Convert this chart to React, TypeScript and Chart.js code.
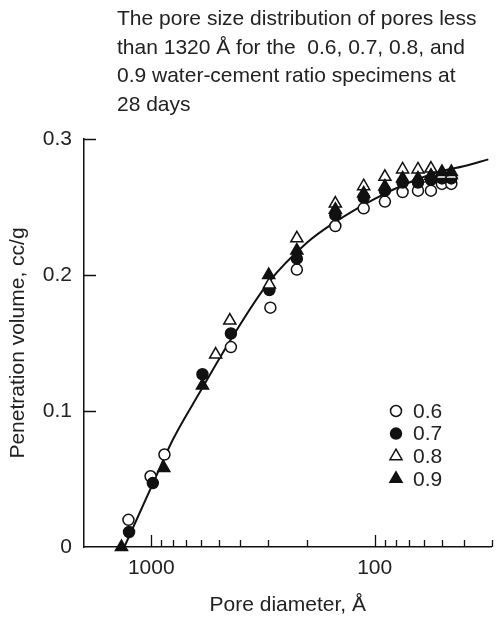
import React, { useEffect, useRef } from 'react';
import { Chart, registerables } from 'chart.js';

Chart.register(...registerables);

const FONT = '"Liberation Sans", Arial, Helvetica, sans-serif';
const INK = '#111111';
const TEXT = '#222222';

const titleLines = [
  'The pore size distribution of pores less',
  'than 1320 Å for the  0.6, 0.7, 0.8, and',
  '0.9 water-cement ratio specimens at',
  '28 days',
];
const xAxisTitle = 'Pore diameter, Å';
const yAxisTitle = 'Penetration volume, cc/g';

// series: water-cement ratio 0.6 (open circles)
const p06X = [1265, 1007, 873, 440, 293, 223, 150, 112, 90, 75, 64, 56, 50, 45.4];
const p06Y = [0.020, 0.052, 0.068, 0.147, 0.176, 0.204, 0.236, 0.249, 0.254, 0.261, 0.262, 0.262, 0.267, 0.267];
// 0.7 (filled circles)
const p07X = [1257, 984, 590, 440, 296, 223, 150, 112, 90, 75, 64, 56, 50, 45.4];
const p07Y = [0.011, 0.047, 0.127, 0.157, 0.189, 0.212, 0.244, 0.257, 0.262, 0.268, 0.268, 0.270, 0.271, 0.271];
// 0.8 (open triangles)
const p08X = [515, 445, 296, 223, 150, 112, 90, 75, 64, 56, 50, 45.4];
const p08Y = [0.1415, 0.1665, 0.193, 0.227, 0.2525, 0.2653, 0.2722, 0.2776, 0.2776, 0.2783, 0.2735, 0.2735];
// 0.9 (filled triangles)
const p09X = [1359, 879, 590, 298, 223, 150, 112, 90, 75, 64, 56, 50, 45.4];
const p09Y = [0, 0.058, 0.1187, 0.200, 0.218, 0.248, 0.260, 0.265, 0.271, 0.271, 0.273, 0.2758, 0.2758];

// fitted curve
const curveX = [1320, 1000, 800, 600, 450, 300, 200, 150, 100, 70, 50, 40, 31];
const curveY = [0, 0.044, 0.079, 0.115, 0.150, 0.194, 0.224, 0.239, 0.256, 0.268, 0.2765, 0.280, 0.285];

const seriesLabels = ['0.6', '0.7', '0.8', '0.9'];

const xMin = 30;
const xMax = 2000;
const yMin = 0;
const yMax = 0.3;
const xLabelTicks = [1000, 100];
const xMinorTicks = [900, 800, 700, 600, 500, 400, 300, 200, 90, 80, 70, 60, 50, 40, 30];
const yTicks = [0, 0.1, 0.2, 0.3];

const zip = (xs: number[], ys: number[]) => xs.map((x, i) => ({ x, y: ys[i] }));

const markerStyles = [
  { style: 'circle', fill: '#ffffff', r: 5.5 },
  { style: 'circle', fill: INK, r: 5.5 },
  { style: 'triangle', fill: '#ffffff', r: 7 },
  { style: 'triangle', fill: INK, r: 7 },
];

function drawMarker(ctx: CanvasRenderingContext2D, kind: number, x: number, y: number) {
  const m = markerStyles[kind];
  ctx.beginPath();
  if (m.style === 'circle') {
    ctx.arc(x, y, m.r, 0, Math.PI * 2);
  } else {
    const r = m.r;
    ctx.moveTo(x, y - r);
    ctx.lineTo(x + r * Math.sin((2 * Math.PI) / 3), y - r * Math.cos((2 * Math.PI) / 3));
    ctx.lineTo(x + r * Math.sin((4 * Math.PI) / 3), y - r * Math.cos((4 * Math.PI) / 3));
    ctx.closePath();
  }
  ctx.fillStyle = m.fill;
  ctx.fill();
  ctx.lineWidth = 1.5;
  ctx.strokeStyle = INK;
  ctx.stroke();
}

const decorPlugin = {
  id: 'decor',
  beforeDatasetsDraw(chart: any) {
    const { ctx, scales } = chart;
    const xs = scales.x;
    const ys = scales.y;
    const bottom = ys.getPixelForValue(yMin);
    const left = xs.getPixelForValue(xMax);
    ctx.save();
    ctx.strokeStyle = INK;
    ctx.lineWidth = 1.3;
    ctx.beginPath();
    xLabelTicks.forEach((v) => {
      const px = Math.round(xs.getPixelForValue(v)) + 0.5;
      ctx.moveTo(px, bottom);
      ctx.lineTo(px, bottom - 12);
    });
    xMinorTicks.forEach((v) => {
      const px = Math.round(xs.getPixelForValue(v)) + 0.5;
      ctx.moveTo(px, bottom);
      ctx.lineTo(px, bottom - 7);
    });
    yTicks.forEach((v) => {
      if (v === yMin) return;
      const py = Math.round(ys.getPixelForValue(v)) + 0.5;
      ctx.moveTo(left, py);
      ctx.lineTo(left + 12, py);
    });
    ctx.stroke();
    ctx.restore();
  },
  afterDraw(chart: any) {
    const { ctx } = chart;
    ctx.save();
    ctx.fillStyle = TEXT;
    ctx.font = `21px ${FONT}`;
    ctx.textAlign = 'left';
    ctx.textBaseline = 'alphabetic';
    titleLines.forEach((line, i) => {
      ctx.fillText(line, 117, 25 + i * 28.5);
    });
    // legend
    seriesLabels.forEach((lab, i) => {
      const cy = 411 + i * 22.6;
      drawMarker(ctx, i, 396, cy);
      ctx.fillStyle = TEXT;
      ctx.textBaseline = 'middle';
      ctx.fillText(lab, 413, cy + 1);
    });
    ctx.restore();
  },
};

export default function App() {
  const ref = useRef<HTMLCanvasElement | null>(null);
  useEffect(() => {
    if (!ref.current) return;
    const pointDs = (i: number, xs: number[], ys: number[], order: number) => ({
      type: 'scatter' as const,
      label: seriesLabels[i],
      data: zip(xs, ys),
      showLine: false,
      pointStyle: markerStyles[i].style,
      pointRadius: markerStyles[i].r,
      pointHoverRadius: markerStyles[i].r,
      pointBackgroundColor: markerStyles[i].fill,
      pointBorderColor: INK,
      pointBorderWidth: 1.5,
      order,
      clip: false as any,
    });
    const chart = new Chart(ref.current, {
      type: 'scatter',
      data: {
        datasets: [
          {
            type: 'scatter',
            label: 'fit',
            data: zip(curveX, curveY),
            showLine: true,
            borderColor: INK,
            borderWidth: 2,
            pointRadius: 0,
            cubicInterpolationMode: 'monotone',
            order: 10,
            clip: false as any,
          } as any,
          pointDs(0, p06X, p06Y, 4),
          pointDs(1, p07X, p07Y, 3),
          pointDs(2, p08X, p08Y, 2),
          pointDs(3, p09X, p09Y, 1),
        ],
      },
      options: {
        responsive: false,
        animation: false,
        events: [],
        layout: { padding: { top: 139, right: 6, left: 0, bottom: 0 } },
        plugins: {
          legend: { display: false },
          tooltip: { enabled: false },
          title: { display: false },
        },
        scales: {
          x: {
            type: 'logarithmic',
            reverse: true,
            min: xMin,
            max: xMax,
            afterFit: (s: any) => {
              s.height = 71;
            },
            afterBuildTicks: (s: any) => {
              s.ticks = xLabelTicks.map((v) => ({ value: v }));
            },
            grid: { display: false, drawTicks: false },
            border: { display: true, color: INK, width: 1.5 },
            ticks: {
              padding: 9,
              color: TEXT,
              font: { family: FONT, size: 21 },
              maxRotation: 0,
              autoSkip: false,
              callback: (v: any) => String(v),
            },
            title: {
              display: true,
              text: xAxisTitle,
              color: TEXT,
              font: { family: FONT, size: 21 },
              padding: { top: 0, bottom: 0 },
            },
          },
          y: {
            type: 'linear',
            min: yMin,
            max: yMax,
            afterFit: (s: any) => {
              s.width = 84;
            },
            afterBuildTicks: (s: any) => {
              s.ticks = yTicks.map((v) => ({ value: v }));
            },
            grid: { display: false, drawTicks: false },
            border: { display: true, color: INK, width: 1.5 },
            ticks: {
              padding: 12,
              color: TEXT,
              font: { family: FONT, size: 21 },
              callback: (v: any) => (v === 0 ? '0' : Number(v).toFixed(1)),
            },
            title: {
              display: true,
              text: yAxisTitle,
              color: TEXT,
              font: { family: FONT, size: 21 },
              padding: { top: 6, bottom: 0 },
            },
          },
        },
      },
      plugins: [decorPlugin],
    } as any);
    return () => chart.destroy();
  }, []);

  return (
    <div style={{ position: 'fixed', left: 0, top: 0, width: 500, height: 618, background: '#ffffff' }}>
      <canvas ref={ref} width={500} height={618} style={{ display: 'block' }} />
    </div>
  );
}
